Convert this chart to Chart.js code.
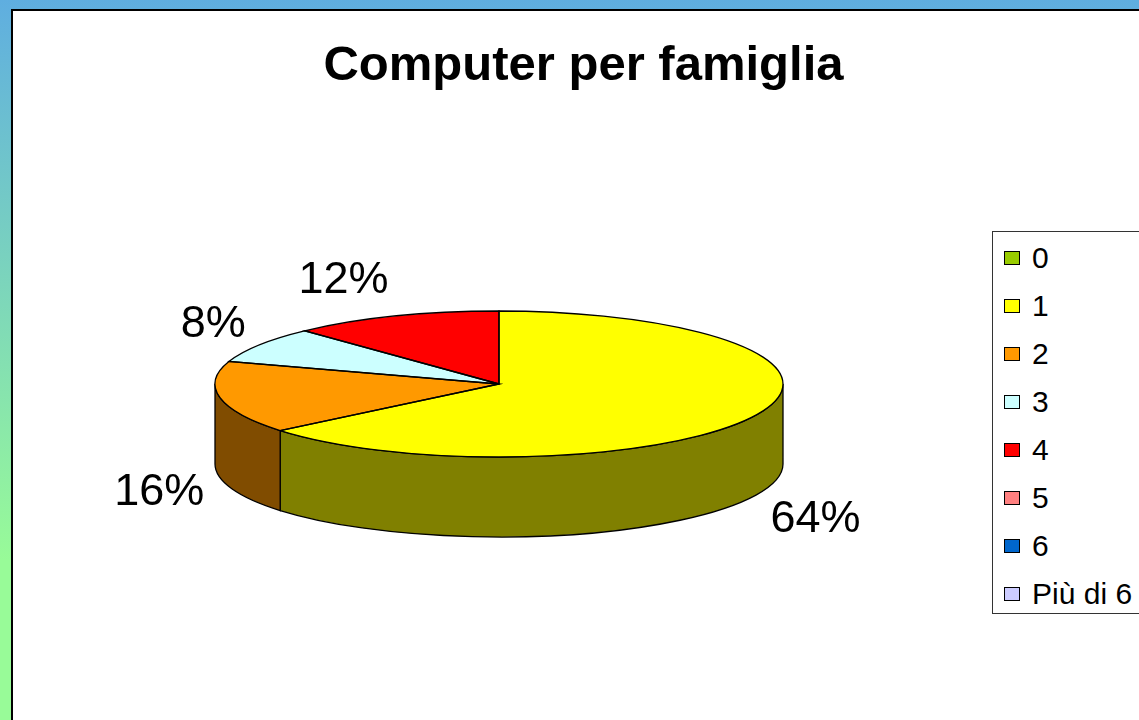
<!DOCTYPE html>
<html>
<head>
<meta charset="utf-8">
<script src="https://cdn.jsdelivr.net/npm/chart.js@4/dist/chart.umd.min.js"></script>
<style>
    body {
        margin: 0;
        width: 1139px;
        height: 720px;
        overflow: hidden;
        position: relative;
        background: linear-gradient(to bottom, #5FAEE0 0px, #98FB98 560px);
        font-family: "Liberation Sans", Arial, sans-serif;
    }
    #panel {
        position: absolute;
        left: 11px;
        top: 9px;
        width: 1200px;
        height: 800px;
        background: #fff;
        border-left: 2px solid #000;
        border-top: 2px solid #000;
    }
    #chart {
        position: absolute;
        left: 0;
        top: 0;
    }
    #title {
        position: absolute;
        left: 0;
        width: 1167px;
        top: 39px;
        text-align: center;
        font-size: 49px;
        line-height: 49px;
        font-weight: bold;
        color: #000;
        white-space: nowrap;
    }
    #legend {
        position: absolute;
        left: 992px;
        top: 231px;
        width: 200px;
        height: 383px;
        border: 1px solid #333;
        background: #fff;
        padding-top: 2px;
        box-sizing: border-box;
    }
    .item {
        height: 48px;
        display: flex;
        align-items: center;
        font-size: 30px;
        white-space: nowrap;
    }
    .item span.box {
        display: inline-block;
        width: 14px;
        height: 12px;
        border: 1px solid #000;
        margin-left: 11px;
        margin-right: 12px;
    }
</style>
</head>
<body>
<div id="panel"></div>
<canvas id="chart" width="1139" height="720"></canvas>
<div id="title">Computer per famiglia</div>
<div id="legend"></div>

<script>
// Data
const categories = ['0', '1', '2', '3', '4', '5', '6', 'Più di 6'];
const shares = [0, 64, 16, 8, 12, 0, 0, 0];

// Colours (top face, side face)
const topColors = ['#99CC00', '#FFFF00', '#FF9900', '#CCFFFF', '#FF0000', '#FF8080', '#0066CC', '#CCCCFF'];
const sideColors = ['#4C6600', '#808000', '#804C00', '#668080', '#800000', '#804040', '#003366', '#666680'];

// 3D look
const tilt = 73 / 284;
const depth = 80;

// Legend built from the same arrays
const legendBox = document.getElementById('legend');
categories.forEach((name, i) => {
    const row = document.createElement('div');
    row.className = 'item';
    row.innerHTML = `<span class="box" style="background:${topColors[i]}"></span>${name}`;
    legendBox.appendChild(row);
});

// Plugin that squashes the pie and adds the side wall + labels
const pie3d = {
    id: 'pie3d',
    beforeDatasetsDraw(chart) {
        const ctx = chart.ctx;
        const meta = chart.getDatasetMeta(0);
        const first = meta.data[0];
        const cx = first.x, cy = first.y, r = first.outerRadius;
        const ry = r * tilt;

        // side walls, only the front half (0..PI) is visible
        meta.data.forEach((arc, i) => {
            if (!shares[i]) return;
            const a0 = Math.max(arc.startAngle, 0);
            const a1 = Math.min(arc.endAngle, Math.PI);
            if (a1 <= a0) return;
            ctx.save();
            ctx.beginPath();
            ctx.ellipse(cx, cy, r, ry, 0, a0, a1, false);
            ctx.lineTo(cx + r * Math.cos(a1), cy + ry * Math.sin(a1) + depth);
            ctx.ellipse(cx, cy + depth, r, ry, 0, a1, a0, true);
            ctx.closePath();
            ctx.fillStyle = sideColors[i];
            ctx.fill();
            ctx.lineWidth = 1.3;
            ctx.strokeStyle = '#000';
            ctx.stroke();
            ctx.restore();
        });

        // squash the top face
        ctx.save();
        ctx.translate(cx, cy);
        ctx.scale(1, tilt);
        ctx.translate(-cx, -cy);
    },
    afterDatasetsDraw(chart) {
        const ctx = chart.ctx;
        ctx.restore();

        const meta = chart.getDatasetMeta(0);
        const first = meta.data[0];
        const cx = first.x, cy = first.y, r = first.outerRadius;
        const ry = r * tilt;
        const total = shares.reduce((a, b) => a + b, 0);

        // outlines of the top face
        meta.data.forEach((arc, i) => {
            if (!shares[i]) return;
            ctx.save();
            ctx.beginPath();
            ctx.moveTo(cx, cy);
            ctx.ellipse(cx, cy, r, ry, 0, arc.startAngle, arc.endAngle, false);
            ctx.closePath();
            ctx.lineWidth = 1.3;
            ctx.strokeStyle = '#000';
            ctx.stroke();
            ctx.restore();
        });

        // percentage labels
        ctx.save();
        ctx.font = '45px "Liberation Sans", Arial, sans-serif';
        ctx.fillStyle = '#000';
        ctx.textBaseline = 'middle';
        meta.data.forEach((arc, i) => {
            if (!shares[i]) return;
            const mid = (arc.startAngle + arc.endAngle) / 2;
            const c = Math.cos(mid), s = Math.sin(mid);
            const x = cx + (r + 16) * c;
            const y = cy + (ry + 38) * s + (s > 0 ? 88 : 0);
            ctx.textAlign = c < 0 ? 'right' : 'left';
            ctx.fillText(Math.round(shares[i] / total * 100) + '%', x, y);
        });
        ctx.restore();
    }
};

new Chart(document.getElementById('chart'), {
    type: 'pie',
    data: {
        labels: categories,
        datasets: [{
            data: shares,
            backgroundColor: topColors,
            borderWidth: 0,
            clip: false
        }]
    },
    options: {
        responsive: false,
        animation: false,
        events: [],
        layout: {
            padding: { left: 215, right: 356, top: 100, bottom: 52 }
        },
        plugins: {
            legend: { display: false },
            title: { display: false },
            tooltip: { enabled: false }
        }
    },
    plugins: [pie3d]
});
</script>
</body>
</html>
